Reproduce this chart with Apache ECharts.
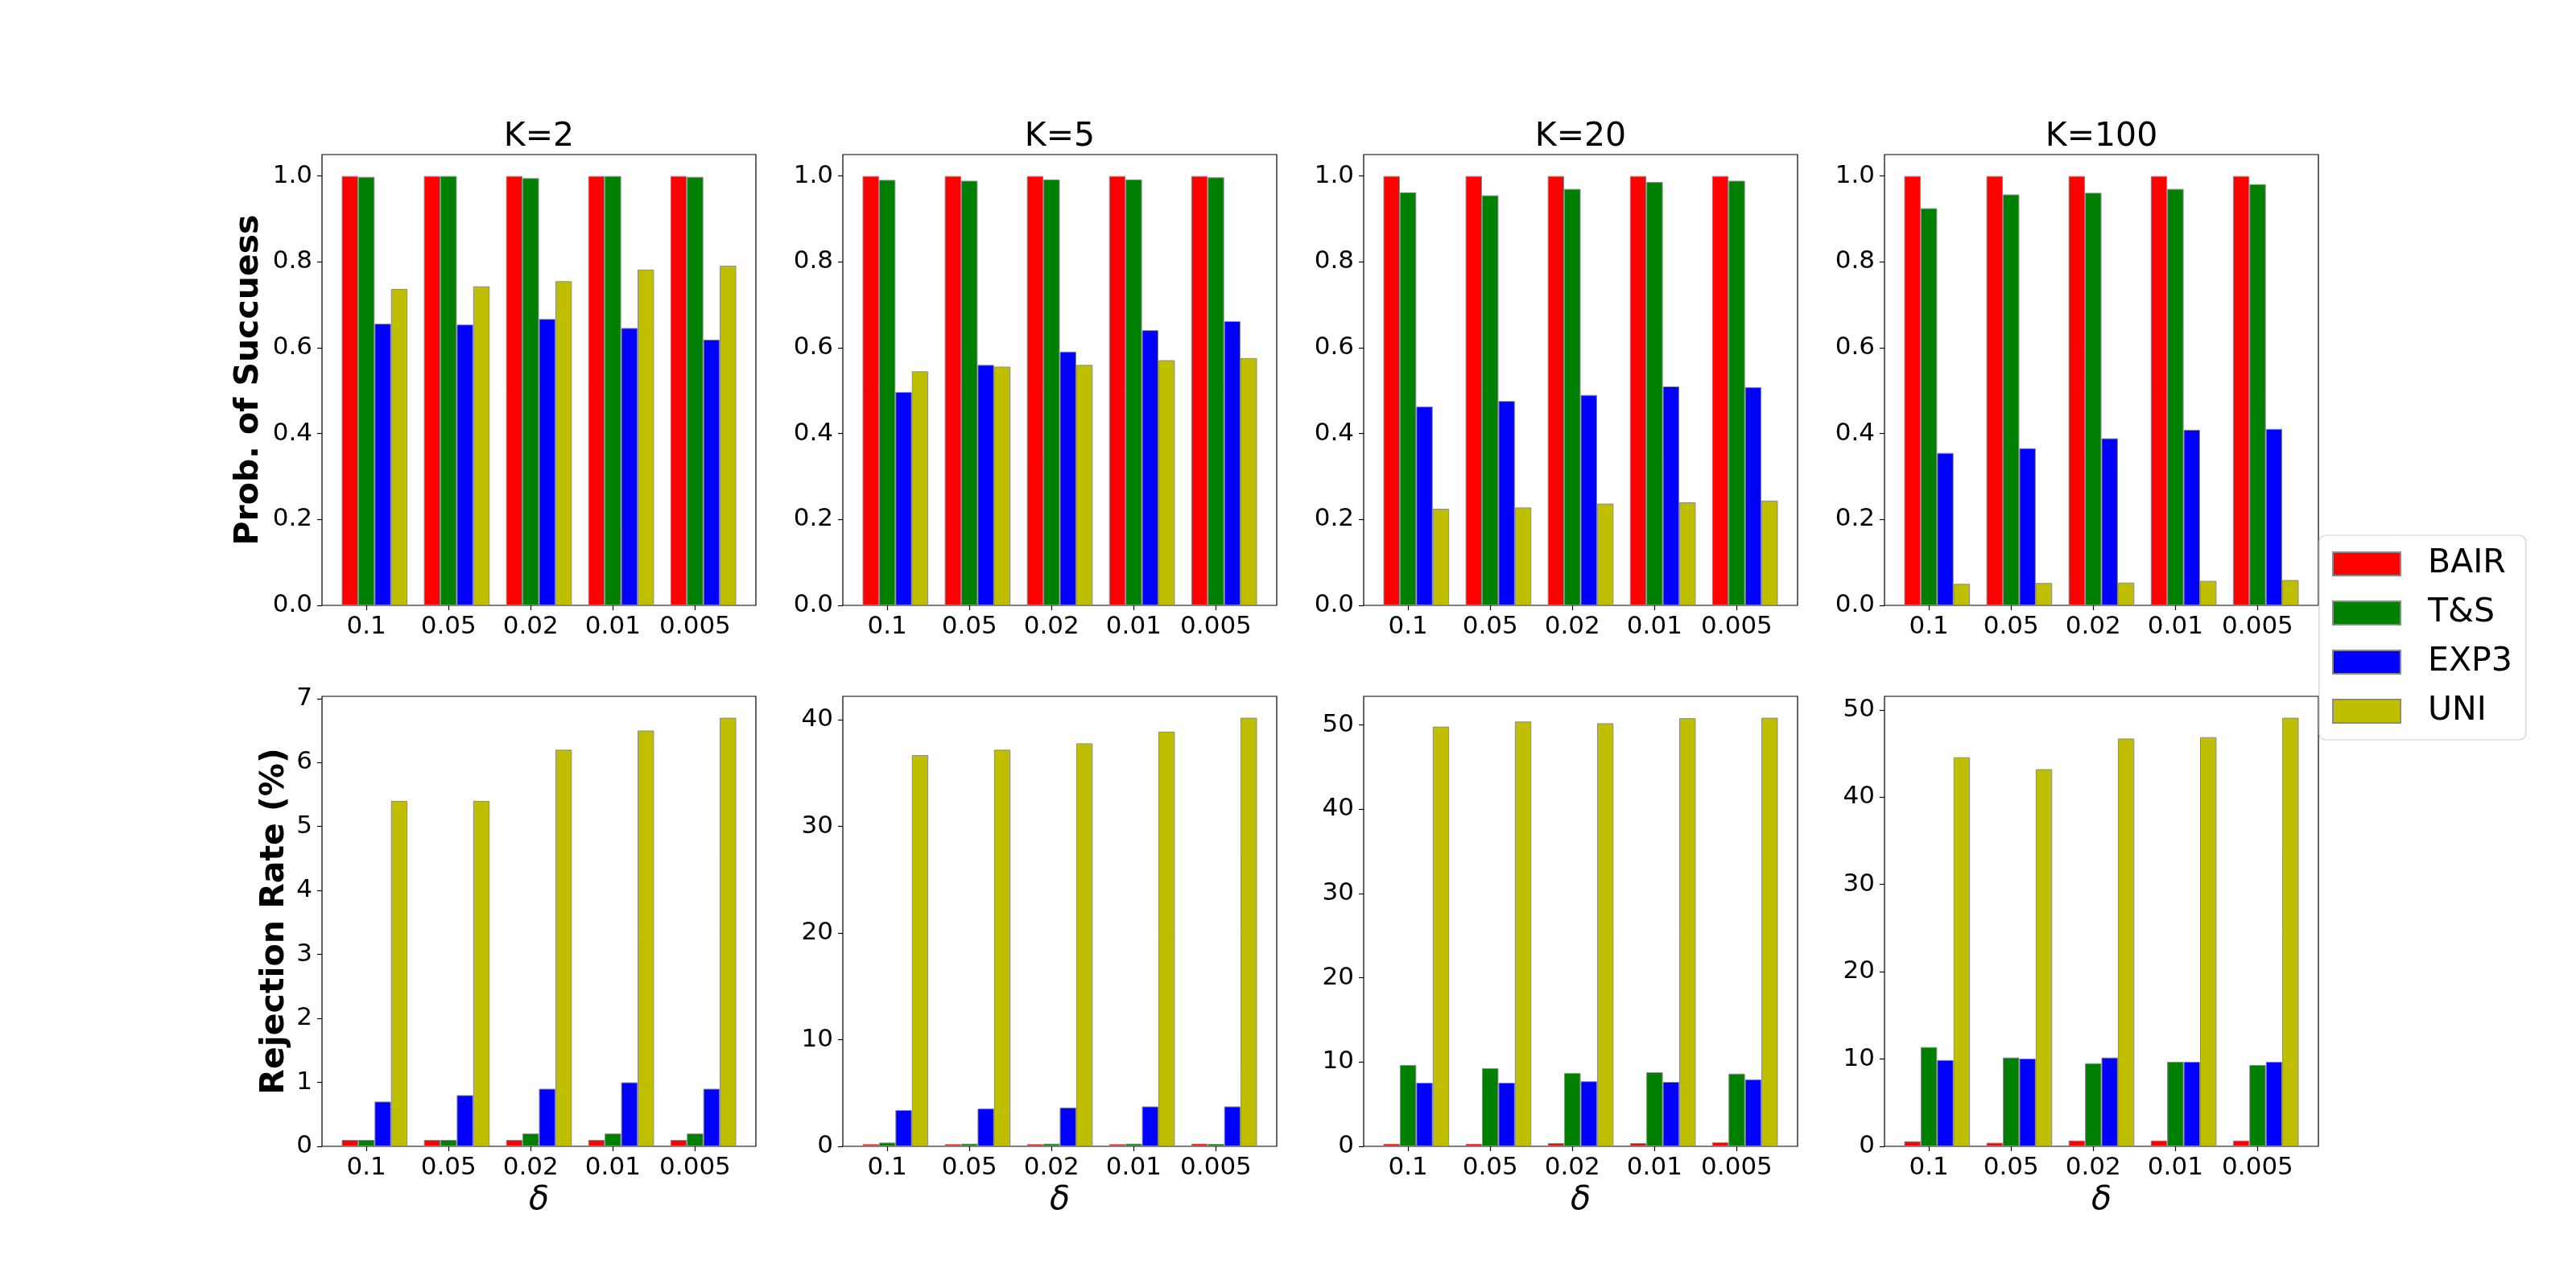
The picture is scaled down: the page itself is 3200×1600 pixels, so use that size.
<!DOCTYPE html>
<html>
<head>
<meta charset="utf-8">
<script src="https://cdn.jsdelivr.net/npm/echarts@6/dist/echarts.min.js"></script>
<style>
html,body{margin:0;padding:0;background:#fff;}
#chart{width:3200px;height:1600px;}
</style>
</head>
<body>
<div id="chart"></div>
<script>
// ---- categories / labels ----
const deltas = ['0.1', '0.05', '0.02', '0.01', '0.005'];
const panelTitles = ['K=2', 'K=5', 'K=20', 'K=100'];
const methods = ['BAIR', 'T&S', 'EXP3', 'UNI'];
const methodColors = ['#ff0000', '#008000', '#0000ff', '#bfbf00'];

// ---- tick labels ----
const ticksSucc = [0, 0.2, 0.4, 0.6, 0.8, 1.0];
const ticksRejK2 = [0, 1, 2, 3, 4, 5, 6, 7];
const ticksRejK5 = [0, 10, 20, 30, 40];
const ticksRejK20 = [0, 10, 20, 30, 40, 50];
const ticksRejK100 = [0, 10, 20, 30, 40, 50];

// ---- Prob. of success ----
const succK2_BAIR = [1.0, 1.0, 1.0, 1.0, 1.0];
const succK2_TS   = [0.998, 1.0, 0.995, 1.0, 0.998];
const succK2_EXP3 = [0.656, 0.654, 0.667, 0.646, 0.619];
const succK2_UNI  = [0.737, 0.743, 0.755, 0.782, 0.791];

const succK5_BAIR = [1.0, 1.0, 1.0, 1.0, 1.0];
const succK5_TS   = [0.991, 0.989, 0.992, 0.992, 0.997];
const succK5_EXP3 = [0.497, 0.560, 0.591, 0.641, 0.662];
const succK5_UNI  = [0.545, 0.556, 0.560, 0.571, 0.576];

const succK20_BAIR = [1.0, 1.0, 1.0, 1.0, 1.0];
const succK20_TS   = [0.962, 0.955, 0.970, 0.986, 0.989];
const succK20_EXP3 = [0.463, 0.476, 0.490, 0.510, 0.508];
const succK20_UNI  = [0.225, 0.228, 0.237, 0.240, 0.244];

const succK100_BAIR = [1.0, 1.0, 1.0, 1.0, 1.0];
const succK100_TS   = [0.925, 0.957, 0.961, 0.970, 0.981];
const succK100_EXP3 = [0.355, 0.366, 0.389, 0.409, 0.411];
const succK100_UNI  = [0.050, 0.052, 0.053, 0.057, 0.059];

// ---- Rejection rate (%) ----
const rejK2_BAIR = [0.1, 0.1, 0.1, 0.1, 0.1];
const rejK2_TS   = [0.1, 0.1, 0.2, 0.2, 0.2];
const rejK2_EXP3 = [0.7, 0.8, 0.9, 1.0, 0.9];
const rejK2_UNI  = [5.4, 5.4, 6.2, 6.5, 6.7];

const rejK5_BAIR = [0.2, 0.2, 0.2, 0.2, 0.25];
const rejK5_TS   = [0.35, 0.25, 0.25, 0.25, 0.22];
const rejK5_EXP3 = [3.40, 3.54, 3.64, 3.74, 3.74];
const rejK5_UNI  = [36.7, 37.2, 37.8, 38.9, 40.2];

const rejK20_BAIR = [0.30, 0.30, 0.38, 0.38, 0.47];
const rejK20_TS   = [9.64, 9.26, 8.70, 8.79, 8.62];
const rejK20_EXP3 = [7.55, 7.55, 7.72, 7.64, 7.94];
const rejK20_UNI  = [49.8, 50.4, 50.2, 50.8, 50.85];

const rejK100_BAIR = [0.58, 0.41, 0.66, 0.66, 0.66];
const rejK100_TS   = [11.37, 10.17, 9.51, 9.68, 9.31];
const rejK100_EXP3 = [9.88, 10.05, 10.17, 9.68, 9.68];
const rejK100_UNI  = [44.56, 43.20, 46.71, 46.87, 49.09];

// ---- assemble panels ----
const panels = [
  {row: 0, col: 0, ticks: ticksSucc, dec: 1, data: [succK2_BAIR, succK2_TS, succK2_EXP3, succK2_UNI]},
  {row: 0, col: 1, ticks: ticksSucc, dec: 1, data: [succK5_BAIR, succK5_TS, succK5_EXP3, succK5_UNI]},
  {row: 0, col: 2, ticks: ticksSucc, dec: 1, data: [succK20_BAIR, succK20_TS, succK20_EXP3, succK20_UNI]},
  {row: 0, col: 3, ticks: ticksSucc, dec: 1, data: [succK100_BAIR, succK100_TS, succK100_EXP3, succK100_UNI]},
  {row: 1, col: 0, ticks: ticksRejK2, dec: 0, data: [rejK2_BAIR, rejK2_TS, rejK2_EXP3, rejK2_UNI]},
  {row: 1, col: 1, ticks: ticksRejK5, dec: 0, data: [rejK5_BAIR, rejK5_TS, rejK5_EXP3, rejK5_UNI]},
  {row: 1, col: 2, ticks: ticksRejK20, dec: 0, data: [rejK20_BAIR, rejK20_TS, rejK20_EXP3, rejK20_UNI]},
  {row: 1, col: 3, ticks: ticksRejK100, dec: 0, data: [rejK100_BAIR, rejK100_TS, rejK100_EXP3, rejK100_UNI]}
];

// layout (pixels)
const colLeft = [400, 1047, 1694, 2341];
const rowTop = [192, 865];
const gridW = 539;
const gridH = [560, 559];
const FONT = 'DejaVu Sans';

// bar geometry like matplotlib: width 0.2, group of 4, tick at 2nd bar
const barW = 0.2;
const nG = deltas.length;
const groupShift = barW / 2; // group centre relative to tick
const dataLo = -1.5 * barW;
const dataHi = (nG - 1) + 2.5 * barW;
const xPad = 0.05 * (dataHi - dataLo);
const xMin = dataLo - xPad;
const xMax = dataHi + xPad;
const tickIdx = deltas.map((d, i) => i);

const grids = [], xAxes = [], yAxes = [], series = [];
panels.forEach((p, k) => {
  grids.push({
    left: colLeft[p.col], top: rowTop[p.row], width: gridW, height: gridH[p.row],
    show: true, borderColor: '#000', borderWidth: 1.2, backgroundColor: 'transparent',
    containLabel: false
  });
  let maxV = 0;
  p.data.forEach(arr => arr.forEach(v => { if (v > maxV) maxV = v; }));
  xAxes.push({
    gridIndex: k, type: 'value', min: xMin, max: xMax,
    axisLine: {show: false, onZero: false}, splitLine: {show: false},
    axisTick: {show: true, inside: false, length: 6, customValues: tickIdx, lineStyle: {color: '#000', width: 1.2}},
    axisLabel: {show: true, customValues: tickIdx, margin: 11, fontSize: 31, color: '#000', fontFamily: FONT,
      formatter: v => deltas[Math.round(v)]},
    name: p.row === 1 ? 'δ' : '', nameLocation: 'middle', nameGap: 47,
    nameTextStyle: {fontSize: 41, fontStyle: 'italic', color: '#000', fontFamily: FONT}
  });
  yAxes.push({
    gridIndex: k, type: 'value', min: 0, max: maxV * 1.05,
    axisLine: {show: false, onZero: false}, splitLine: {show: false},
    axisTick: {show: true, inside: false, length: 6, customValues: p.ticks, lineStyle: {color: '#000', width: 1.2}},
    axisLabel: {show: true, customValues: p.ticks, margin: 12, fontSize: 31, color: '#000', fontFamily: FONT,
      formatter: v => v.toFixed(p.dec)},
    name: p.col === 0 ? (p.row === 0 ? 'Prob. of Succuess' : 'Rejection Rate (%)') : '',
    nameLocation: 'middle', nameGap: p.row === 0 ? 70 : 38,
    nameTextStyle: {fontSize: 41, fontWeight: 'bold', color: '#000', fontFamily: FONT}
  });
  p.data.forEach((arr, m) => {
    series.push({
      type: 'bar', name: methods[m], xAxisIndex: k, yAxisIndex: k,
      barWidth: (barW * 100) + '%', barGap: '0%',
      itemStyle: {color: methodColors[m], borderColor: '#8a8a8a', borderWidth: 1},
      emphasis: {disabled: true},
      data: arr.map((v, i) => [i + groupShift, v])
    });
  });
});

const titles = panelTitles.map((t, c) => ({
  text: t, left: colLeft[c] + gridW / 2, top: 150, padding: 0,
  textAlign: 'center', textVerticalAlign: 'top',
  textStyle: {fontSize: 41, fontWeight: 'normal', color: '#000', fontFamily: FONT}
}));

const chart = echarts.init(document.getElementById('chart'), null, {renderer: 'canvas'});
chart.setOption({
  animation: false,
  backgroundColor: '#fff',
  textStyle: {fontFamily: FONT, color: '#000'},
  title: titles,
  legend: {
    data: methods, orient: 'vertical', left: 2881, top: 665,
    padding: [15, 17, 15, 16], itemWidth: 84, itemHeight: 29, itemGap: 20,
    icon: 'rect', backgroundColor: '#fff', borderColor: '#cccccc', borderWidth: 1.2, borderRadius: 8,
    textStyle: {fontSize: 41, color: '#000', fontFamily: FONT, lineHeight: 41, padding: [0, 0, 0, 29]}
  },
  grid: grids,
  xAxis: xAxes,
  yAxis: yAxes,
  series: series
});
</script>
</body>
</html>
